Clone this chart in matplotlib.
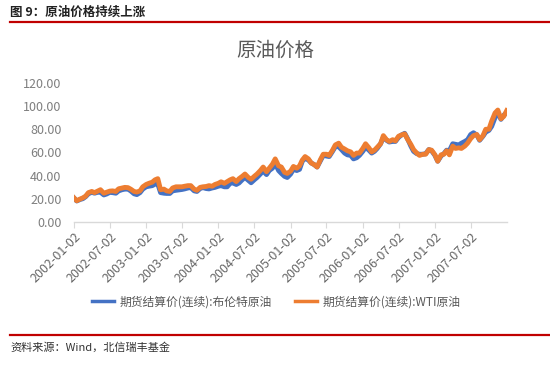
import matplotlib
matplotlib.use("Agg")
import matplotlib.pyplot as plt
import pandas as pd
from matplotlib.lines import Line2D

plt.rcParams['font.family'] = ['Noto Sans CJK SC', 'DejaVu Sans']

title = "原油价格"
header = "图 9：原油价格持续上涨"
source = "资料来源：Wind，北信瑞丰基金"
series_names = ["期货结算价(连续):布伦特原油", "期货结算价(连续):WTI原油"]
tick_labels = ["2002-01-02", "2002-07-02", "2003-01-02", "2003-07-02", "2004-01-02",
               "2004-07-02", "2005-01-02", "2005-07-02", "2006-01-02", "2006-07-02",
               "2007-01-02", "2007-07-02"]
y_ticks = [0, 20, 40, 60, 80, 100, 120]

# semi-monthly readings (1st and 16th of each month), plus year-end point
brent = [
    20.8, 18.3, 19.6, 20.3, 22.0, 24.5, 25.8, 25.0, 25.8, 25.8, 23.5, 24.3,
    25.7, 25.5, 25.0, 27.0, 28.0, 28.5, 28.5, 27.0, 24.5, 23.8, 25.5, 28.5,
    30.5, 31.0, 31.5, 32.8, 33.0, 25.5, 25.0, 24.8, 24.8, 27.0, 27.5, 27.8,
    28.2, 28.7, 29.5, 29.8, 27.0, 26.5, 29.0, 29.8, 29.0, 28.7, 29.5, 30.0,
    31.0, 31.5, 30.5, 30.5, 33.5, 33.8, 32.5, 33.8, 36.5, 38.5, 36.0, 34.0,
    36.5, 38.5, 41.5, 44.0, 41.0, 44.5, 46.5, 50.5, 44.5, 42.0, 39.5, 38.5,
    41.5, 45.5, 44.5, 45.5, 52.5, 55.0, 53.5, 51.0, 49.5, 47.5, 53.0, 57.5,
    57.0, 56.5, 61.0, 65.0, 65.0, 62.5, 59.5, 58.0, 57.5, 54.5, 55.5, 57.5,
    61.0, 64.5, 62.0, 59.5, 61.0, 63.5, 67.5, 73.0, 70.5, 69.0, 69.5, 69.5,
    73.0, 75.0, 76.5, 72.0, 65.5, 61.0, 59.0, 58.5, 58.5, 59.0, 62.5, 61.5,
    57.5, 52.5, 57.0, 59.0, 62.0, 61.5, 67.5, 67.0, 66.5, 68.0, 69.5, 71.0,
    75.5, 77.0, 75.0, 70.5, 74.0, 77.5, 79.0, 82.5, 90.0, 94.0, 88.5, 92.0,
    94.5]
wti = [
    21.0, 18.5, 20.0, 21.0, 22.5, 25.5, 26.5, 25.5, 26.8, 28.0, 25.0, 25.8,
    26.8, 27.0, 26.5, 28.8, 29.5, 30.0, 29.8, 28.5, 26.5, 26.0, 27.0, 30.5,
    32.5, 33.5, 34.5, 36.5, 37.5, 28.0, 28.5, 27.0, 26.5, 29.5, 30.5, 30.5,
    30.5, 31.0, 31.5, 31.5, 28.5, 27.5, 30.0, 30.5, 30.8, 31.5, 31.0, 32.5,
    33.5, 34.8, 33.5, 35.0, 36.5, 37.5, 35.0, 37.5, 39.5, 41.5, 38.5, 37.0,
    39.5, 41.5, 44.5, 47.5, 43.5, 46.5, 50.0, 54.5, 48.5, 47.5, 43.0, 42.0,
    44.0, 48.0, 46.5, 48.5, 53.5, 56.5, 54.5, 51.0, 49.5, 47.5, 54.0, 58.5,
    58.5, 57.5, 62.0, 66.5, 68.0, 64.5, 63.0, 61.5, 60.5, 57.5, 59.5, 59.5,
    63.5, 67.5, 64.0, 60.5, 62.0, 64.5, 67.5, 74.5, 71.0, 69.5, 71.0, 70.0,
    74.0, 75.0, 76.0, 71.5, 67.0, 62.5, 59.5, 57.5, 58.5, 58.5, 62.5, 62.0,
    58.0, 52.5, 58.0, 58.5, 61.5, 58.0, 65.5, 63.5, 64.0, 63.5, 65.5, 68.0,
    72.0, 74.5, 75.5, 71.0, 74.5, 80.0, 80.0, 87.0, 94.0, 96.5, 89.0, 91.0,
    96.0]

months = pd.date_range("2002-01-01", "2007-12-01", freq="MS")
dates = []
for m in months:
    dates.append(m + pd.Timedelta(days=1))
    dates.append(m + pd.Timedelta(days=15))
dates.append(pd.Timestamp("2007-12-31"))

fig = plt.figure(figsize=(5.5, 3.65), dpi=100)
ax = fig.add_axes([0.1345, 0.391, 0.7875, 0.3824])

blue = "#4472C4"
orange = "#ED7D31"
ax.plot(dates, brent, color=blue, lw=3.5, solid_joinstyle='round')
ax.plot(dates, wti, color=orange, lw=3.5, solid_joinstyle='round')

ax.set_ylim(0, 120)
ax.set_yticks(y_ticks)
ax.set_yticklabels([f"{v:.2f}" for v in y_ticks])
ax.set_xlim(pd.Timestamp("2002-01-02"), pd.Timestamp("2008-01-02"))
tick_dates = [pd.Timestamp(t) for t in tick_labels]
ax.set_xticks(tick_dates)
ax.set_xticklabels(tick_labels, rotation=45, ha='right', rotation_mode='anchor')

for s in ["top", "right", "left"]:
    ax.spines[s].set_visible(False)
ax.spines["bottom"].set_color("#D9D9D9")
ax.spines["bottom"].set_linewidth(1.0)
ax.tick_params(axis='y', length=0, labelsize=9, colors="#7F7F7F", pad=9)
ax.tick_params(axis='x', length=4, color="#D9D9D9", labelsize=9, labelcolor="#666666", pad=2)

fig.text(0.5, 1 - 50 / 365, title, ha='center', va='center', fontsize=14, color="#595959")

handles = [Line2D([0], [0], color=blue, lw=2.5), Line2D([0], [0], color=orange, lw=2.5)]
fig.legend(handles, series_names, loc='center', bbox_to_anchor=(276 / 550, 1 - 302 / 365),
           ncol=2, frameon=False, fontsize=8.5, handlelength=1.9, columnspacing=2.0,
           handletextpad=0.4, labelcolor="#595959")

fig.text(10 / 550, 1 - 12 / 365, header, ha='left', va='center', fontsize=9,
         fontweight='bold', color="#222222")
fig.add_artist(Line2D([10 / 550, 1.0], [1 - 22 / 365, 1 - 22 / 365], color="#C00000", lw=1.6))
fig.add_artist(Line2D([10 / 550, 1.0], [1 - 335 / 365, 1 - 335 / 365], color="#C00000", lw=1.6))
fig.text(10 / 550, 1 - 347 / 365, source, ha='left', va='center', fontsize=8,
         style='italic', color="#333333")

fig.savefig("out.png", dpi=100)
